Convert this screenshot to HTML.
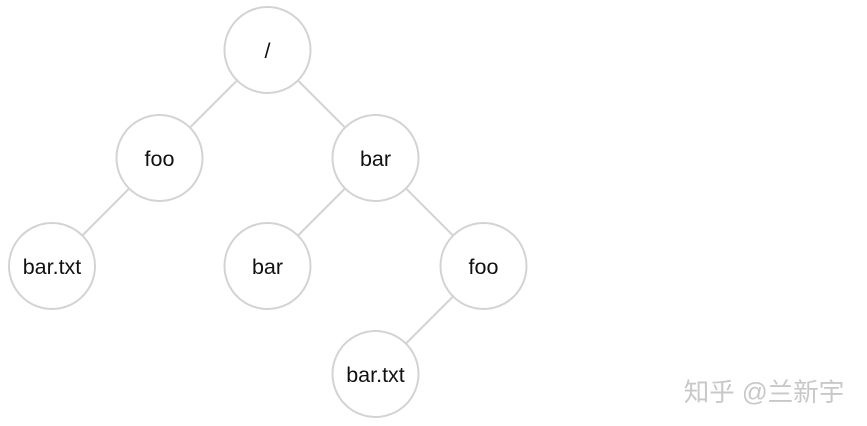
<!DOCTYPE html>
<html><head><style>
html,body{margin:0;padding:0;background:#fff;width:867px;height:426px;overflow:hidden}
svg text{font-family:"Liberation Sans",sans-serif;font-size:21.5px;fill:#111;text-anchor:middle;dominant-baseline:central}
</style></head><body>
<svg width="867" height="426" xmlns="http://www.w3.org/2000/svg">
<g stroke="#d3d3d3" stroke-width="2">
<line x1="267.5" y1="50" x2="159.5" y2="158"/>
<line x1="267.5" y1="50" x2="375.5" y2="158"/>
<line x1="159.5" y1="158" x2="52" y2="266"/>
<line x1="375.5" y1="158" x2="267.5" y2="266"/>
<line x1="375.5" y1="158" x2="483.5" y2="266"/>
<line x1="483.5" y1="266" x2="375.5" y2="374"/>
</g>
<g fill="#fff" stroke="#d3d3d3" stroke-width="2">
<circle cx="267.5" cy="50" r="43"/>
<circle cx="159.5" cy="158" r="43"/>
<circle cx="375.5" cy="158" r="43"/>
<circle cx="52" cy="266" r="43"/>
<circle cx="267.5" cy="266" r="43"/>
<circle cx="483.5" cy="266" r="43"/>
<circle cx="375.5" cy="374" r="43"/>
</g>
<text x="267.5" y="51">/</text>
<text x="159.5" y="159">foo</text>
<text x="375.5" y="159">bar</text>
<text x="52" y="267">bar.txt</text>
<text x="267.5" y="267">bar</text>
<text x="483.5" y="267">foo</text>
<text x="375.5" y="375">bar.txt</text>
<text x="764" y="393" style="font-family:'Liberation Sans','Noto Sans CJK SC',sans-serif;font-size:25.5px;fill:#c8c8c8">知乎 @兰新宇</text>
</svg>
</body></html>
